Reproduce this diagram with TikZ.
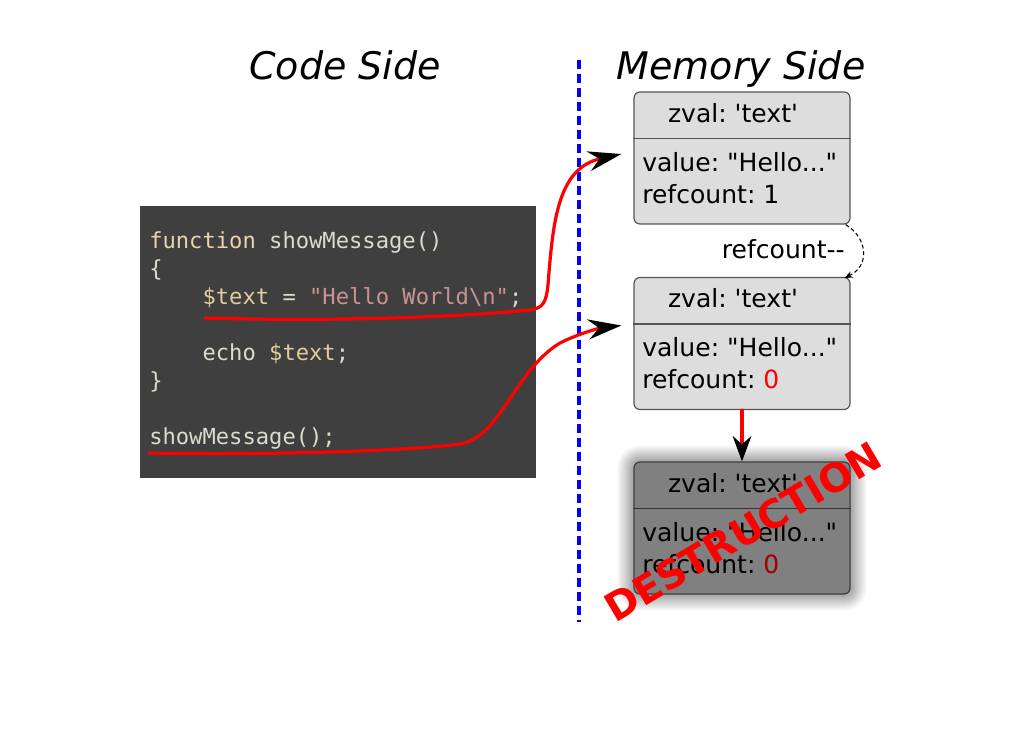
\documentclass[tikz,border=0pt]{standalone}
\usepackage{fontspec}
\setmainfont{DejaVu Sans}[Ligatures=TeXOff]
\newfontfamily\codefont{DejaVu Sans Mono}[Ligatures=TeXOff]
\usetikzlibrary{arrows.meta,shadows.blur,calc}
\frenchspacing
\definecolor{codebg}{HTML}{3F3F3F}
\definecolor{codefg}{HTML}{DCDCCC}
\definecolor{codekw}{HTML}{E8D5A8}
\definecolor{codevar}{HTML}{E3CD9E}
\definecolor{codestr}{HTML}{CC9393}
\definecolor{boxfill}{HTML}{DDDDDD}
\definecolor{boxdraw}{HTML}{555555}
\definecolor{deadfill}{HTML}{808080}
\definecolor{deadred}{HTML}{A00000}
\tikzset{
  zbox/.style={draw=boxdraw, line width=0.9pt, rounded corners=4.5pt, fill=boxfill,
    minimum width=162pt, minimum height=99pt, inner sep=0pt},
  zdiv/.style={draw=boxdraw, line width=0.9pt},
  ztext/.style={font=\fontsize{18.8}{22}\selectfont, inner sep=0pt, anchor=base west},
  zhead/.style={font=\fontsize{18.8}{22}\selectfont, inner sep=0pt, anchor=base},
  codetext/.style={font=\codefont\fontsize{16.6}{20}\selectfont, text=codefg, inner sep=0pt, anchor=base west},
  titletext/.style={font=\itshape\fontsize{28.5}{32}\selectfont, inner sep=0pt, anchor=base},
  redline/.style={red, line width=2.4pt, line cap=round},
  bigtip/.style={-{Stealth[color=black,length=25pt,width=15pt]}},
}
\begin{document}
\begin{tikzpicture}[x=0.75pt,y=-0.75pt]
\useasboundingbox (0,0) rectangle (1024,746);

% titles
\node[titletext] (codetitle) at (345,79) {Code Side};
\node[titletext] (memtitle) at (741,79) {Memory Side};

% separator
\coordinate (septop) at (579,60);
\coordinate (sepbot) at (579,622);
\draw[blue, line width=3pt, dash pattern=on 6.5pt off 4pt] (septop) -- (sepbot);

% code box
\node[fill=codebg, minimum width=297pt, minimum height=204pt, inner sep=0pt] (code) at (338,342) {};
\node[codetext] (l1) at (149,248) {{\color{codekw}function} showMessage()};
\node[codetext] (l2) at (149,276) {\{};
\node[codetext] (l3) at (149,304) {\phantom{xxxx}{\color{codevar}\$text} = {\color{codestr}"Hello World\textbackslash n"};};
\node[codetext] (l5) at (149,360) {\phantom{xxxx}echo {\color{codevar}\$text};};
\node[codetext] (l6) at (149,388) {\}};
\node[codetext] (l8) at (149,444) {showMessage();};

% box 1
\node[zbox] (b1) at (742,158) {};
\draw[zdiv] ($(b1.north west)+(0,47)$) -- ($(b1.north east)+(0,47)$);
\node[zhead] (b1h) at (733,122) {zval: 'text'};
\node[ztext] (b1v) at (642,171) {value: "Hello..."};
\node[ztext] (b1r) at (642,203) {refcount: 1};

% box 2
\node[zbox] (b2) at (742,343.5) {};
\draw[zdiv] ($(b2.north west)+(0,47)$) -- ($(b2.north east)+(0,47)$);
\node[zhead] (b2h) at (733,307) {zval: 'text'};
\node[ztext] (b2v) at (642,356) {value: "Hello..."};
\node[ztext] (b2r) at (642,388) {refcount: {\color{red}0}};

% box 3 (destroyed)
\node[zbox, fill=deadfill, draw=black!75,
  blur shadow={shadow xshift=0pt, shadow yshift=0pt, shadow blur radius=13pt, shadow opacity=75, shadow blur steps=16}]
  (b3) at (742,528) {};
\draw[zdiv, draw=black!80] ($(b3.north west)+(0,47)$) -- ($(b3.north east)+(0,47)$);
\node[zhead] (b3h) at (733,492) {zval: 'text'};
\node[ztext] (b3v) at (642,541) {value: "Hello..."};
\node[ztext] (b3r) at (642,573) {refcount: {\color{deadred}0}};

% refcount-- arrow
\node[font=\fontsize{18.8}{22}\selectfont, inner sep=0pt, anchor=base east] (dec) at (845,258) {refcount--};
\draw[densely dashed, line width=0.8pt, -{Stealth[length=6pt,width=5pt]}]
  ($(b1.south east)+(-5,0)$) .. controls (868,238) and (870,266) .. ($(b2.north east)+(-6,1)$);

% destruction arrow
\draw[redline, -{Stealth[color=black,length=19pt,width=14pt]}] (b2.south) -- (b3.north);

% red underline curves
\coordinate (u1) at (205,318);
\coordinate (u2) at (149,453);
\draw[redline, bigtip] (u1) .. controls (350,322) and (470,316) .. (530,310)
  .. controls (543,308) and (546,303) .. (548,285)
  .. controls (553,220) and (558,168) .. ($(b1.west)+(-12,-4)$);
\draw[redline, bigtip] (u2) .. controls (250,455) and (400,452) .. (460,444)
  .. controls (500,438) and (515,370) .. (560,343)
  .. controls (580,333) and (600,328) .. ($(b2.west)+(-12,-18)$);

% DESTRUCTION stamp
\node[rotate=30.5, text=red, inner sep=0pt, font=\bfseries\fontsize{29.5}{31}\selectfont] (destr) at (743,532) {DESTRUCTION};
\end{tikzpicture}
\end{document}
